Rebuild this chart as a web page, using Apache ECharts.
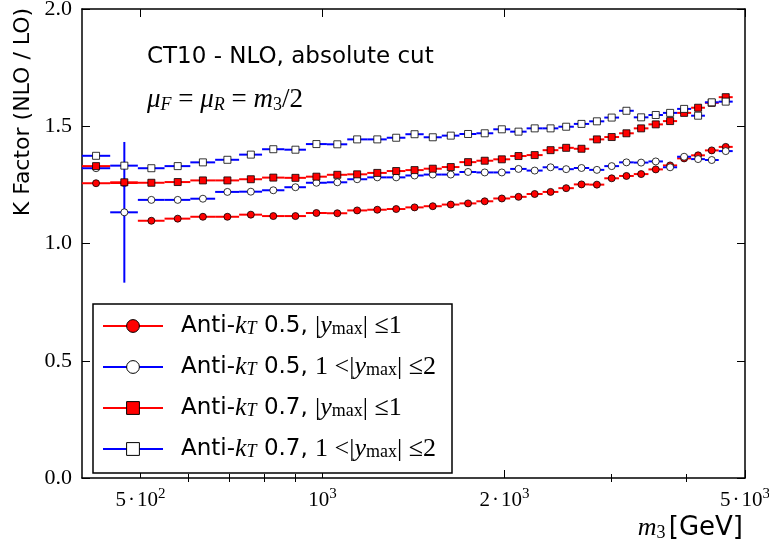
<!DOCTYPE html>
<html>
<head>
<meta charset="utf-8">
<script src="https://cdn.jsdelivr.net/npm/echarts@6/dist/echarts.min.js"></script>
<style>
  html, body { margin: 0; padding: 0; background: #ffffff; }
  #chart { width: 769px; height: 549px; }
</style>
</head>
<body>
<div id="chart"></div>
<script>
// Three-jet invariant mass bin centres (GeV)
const massCenters = [
  422, 470, 521, 576, 634, 696, 761, 829, 902, 977,
  1058, 1141, 1232, 1324, 1420, 1522, 1630, 1741, 1855, 1980,
  2110, 2244, 2384, 2530, 2682, 2844, 3009, 3183, 3366, 3559,
  3759, 3965, 4182, 4405, 4646
];

// K factors, anti-kT R = 0.5, |y_max| <= 1
const kR05Central = [
  1.257, 1.258, 1.097, 1.106, 1.114, 1.114, 1.123, 1.117, 1.117, 1.130,
  1.129, 1.141, 1.144, 1.147, 1.154, 1.159, 1.166, 1.171, 1.180, 1.192,
  1.199, 1.211, 1.220, 1.236, 1.252, 1.251, 1.278, 1.288, 1.296, 1.316,
  1.333, 1.363, 1.376, 1.397, 1.412
];

// K factors, anti-kT R = 0.5, 1 < |y_max| <= 2
const kR05Forward = [
  1.321, 1.133, 1.186, 1.186, 1.191, 1.220, 1.221, 1.227, 1.240, 1.259,
  1.261, 1.274, 1.282, 1.282, 1.290, 1.294, 1.294, 1.305, 1.303, 1.303,
  1.318, 1.311, 1.325, 1.317, 1.322, 1.314, 1.330, 1.346, 1.345, 1.350,
  1.325, 1.370, 1.360, 1.356, 1.394
];
const kR05ForwardErr = [
  0, 0.30, 0, 0, 0, 0, 0, 0, 0, 0,
  0, 0, 0, 0, 0, 0, 0, 0, 0, 0,
  0, 0, 0, 0, 0, 0, 0, 0, 0, 0,
  0, 0, 0, 0, 0
];

// K factors, anti-kT R = 0.7, |y_max| <= 1
const kR07Central = [
  1.330, 1.261, 1.259, 1.262, 1.269, 1.269, 1.274, 1.281, 1.280, 1.285,
  1.293, 1.295, 1.301, 1.309, 1.313, 1.319, 1.326, 1.347, 1.353, 1.359,
  1.373, 1.377, 1.398, 1.408, 1.404, 1.444, 1.454, 1.470, 1.491, 1.508,
  1.522, 1.557, 1.579, 1.600, 1.624
];

// K factors, anti-kT R = 0.7, 1 < |y_max| <= 2
const kR07Forward = [
  1.374, 1.332, 1.321, 1.330, 1.346, 1.357, 1.379, 1.402, 1.400, 1.424,
  1.423, 1.444, 1.444, 1.451, 1.466, 1.453, 1.460, 1.467, 1.470, 1.487,
  1.477, 1.491, 1.491, 1.498, 1.510, 1.521, 1.537, 1.566, 1.538, 1.548,
  1.557, 1.574, 1.545, 1.602, 1.605
];

// Axis ticks
const xRange = [400, 5000];
const xMajorTicks = [500, 1000, 2000, 5000];
const xMajorMantissa = ['5', '', '2', '5'];
const xMajorExponent = ['2', '3', '3', '3'];
const xMinorTicks = [600, 700, 800, 900, 3000, 4000];
const yRange = [0, 2];
const yStep = 0.5;

const RED = '#ff0000';
const BLUE = '#0000ff';
const SERIF = 'Liberation Serif';
const SANS = 'DejaVu Sans';

// Bin edges: geometric mid-points between neighbouring bin centres
function binEdges(centers) {
  const n = centers.length;
  const mids = [];
  for (let i = 0; i < n - 1; i++) mids.push(Math.sqrt(centers[i] * centers[i + 1]));
  const lo = [centers[0] * centers[0] / mids[0]].concat(mids);
  const hi = mids.concat([centers[n - 1] * centers[n - 1] / mids[n - 2]]);
  return { lo, hi };
}
const edges = binEdges(massCenters);

function barData(values, errs) {
  return massCenters.map((m, i) => [m, values[i], edges.lo[i], edges.hi[i], errs ? errs[i] : 0]);
}
function pointData(values) {
  return massCenters.map((m, i) => [m, values[i]]);
}

const seriesDefs = [
  { name: 'r05c', values: kR05Central, errs: null, color: RED, fill: RED, symbol: 'circle',
    label: 'Anti-{it|k}{sub|T} 0.5, {m||}{it|y}{subr|max}{m|| ≤}{m|1}' },
  { name: 'r05f', values: kR05Forward, errs: kR05ForwardErr, color: BLUE, fill: '#ffffff', symbol: 'circle',
    label: 'Anti-{it|k}{sub|T} 0.5, {m|1 <|}{it|y}{subr|max}{m|| ≤}{m|2}' },
  { name: 'r07c', values: kR07Central, errs: null, color: RED, fill: RED, symbol: 'rect',
    label: 'Anti-{it|k}{sub|T} 0.7, {m||}{it|y}{subr|max}{m|| ≤}{m|1}' },
  { name: 'r07f', values: kR07Forward, errs: null, color: BLUE, fill: '#ffffff', symbol: 'rect',
    label: 'Anti-{it|k}{sub|T} 0.7, {m|1 <|}{it|y}{subr|max}{m|| ≤}{m|2}' }
];

function makeBarRenderer(color) {
  return function (params, api) {
    const y = api.value(1);
    const a = api.coord([api.value(2), y]);
    const b = api.coord([api.value(3), y]);
    const children = [{
      type: 'line',
      shape: { x1: a[0], y1: a[1], x2: b[0], y2: b[1] },
      style: { stroke: color, lineWidth: 2 }
    }];
    const err = api.value(4);
    if (err > 0) {
      const c = api.coord([api.value(0), y + err]);
      const d = api.coord([api.value(0), y - err]);
      children.push({
        type: 'line',
        shape: { x1: c[0], y1: c[1], x2: d[0], y2: d[1] },
        style: { stroke: color, lineWidth: 2 }
      });
    }
    return { type: 'group', children };
  };
}

const series = [];
seriesDefs.forEach((s, i) => {
  series.push({
    type: 'custom',
    name: s.name + '-bars',
    xAxisIndex: 0,
    yAxisIndex: 0,
    z: 2 + 2 * i,
    renderItem: makeBarRenderer(s.color),
    encode: { x: 0, y: 1 },
    data: barData(s.values, s.errs),
    silent: true
  });
  series.push({
    type: 'line',
    name: s.name,
    xAxisIndex: 0,
    yAxisIndex: 0,
    z: 3 + 2 * i,
    data: pointData(s.values),
    symbol: s.symbol,
    symbolSize: 7,
    showSymbol: true,
    showAllSymbol: true,
    lineStyle: { opacity: 0, width: 0 },
    itemStyle: { color: s.fill, borderColor: '#000000', borderWidth: 0.8 },
    emphasis: { disabled: true }
  });
});

const labelByName = {};
seriesDefs.forEach(s => { labelByName[s.name] = s.label; });

// Tick labels of the form "5·10²" / "10³"
function xTickLabel(v) {
  for (let i = 0; i < xMajorTicks.length; i++) {
    if (Math.abs(v - xMajorTicks[i]) / xMajorTicks[i] < 1e-6) {
      const mant = xMajorMantissa[i] ? '{a|' + xMajorMantissa[i] + '}{d|·}' : '';
      return mant + '{a|10}{e|' + xMajorExponent[i] + '}';
    }
  }
  return '';
}

function logXAxis(opts) {
  return Object.assign({
    type: 'log',
    logBase: 10,
    min: xRange[0],
    max: xRange[1],
    gridIndex: 0,
    axisLine: { show: false },
    splitLine: { show: false },
    minorTick: { show: false },
    minorSplitLine: { show: false },
    axisLabel: { show: false },
    axisTick: { show: false }
  }, opts);
}

const option = {
  animation: false,
  backgroundColor: '#ffffff',
  grid: { left: 82, right: 24, top: 9, bottom: 71, outerBoundsMode: 'none', containLabel: false },
  xAxis: [
    logXAxis({
      position: 'bottom',
      axisLine: { show: true, onZero: false, lineStyle: { color: '#000', width: 1.5 } },
      axisTick: { show: true, inside: true, length: 8, customValues: xMajorTicks,
        lineStyle: { color: '#000', width: 1 } },
      axisLabel: {
        show: true, margin: 9, customValues: xMajorTicks, formatter: xTickLabel,
        color: '#000',
        rich: {
          a: { fontFamily: SERIF, fontSize: 21, lineHeight: 26, color: '#000' },
          d: { fontFamily: SERIF, fontSize: 21, lineHeight: 26, padding: [0, 2, 0, 2], color: '#000' },
          e: { fontFamily: SERIF, fontSize: 15, lineHeight: 15, verticalAlign: 'top', color: '#000' }
        }
      }
    }),
    logXAxis({
      position: 'bottom',
      axisTick: { show: true, inside: true, length: 4, customValues: xMinorTicks,
        lineStyle: { color: '#000', width: 1 } }
    }),
    logXAxis({
      position: 'top',
      axisLine: { show: true, onZero: false, lineStyle: { color: '#000', width: 1.5 } },
      axisTick: { show: true, inside: true, length: 8, customValues: xMajorTicks,
        lineStyle: { color: '#000', width: 1 } }
    }),
    logXAxis({
      position: 'top',
      axisTick: { show: true, inside: true, length: 4, customValues: xMinorTicks,
        lineStyle: { color: '#000', width: 1 } }
    })
  ],
  yAxis: [
    {
      type: 'value', position: 'left', min: yRange[0], max: yRange[1], interval: yStep,
      axisLine: { show: true, onZero: false, lineStyle: { color: '#000', width: 1.5 } },
      axisTick: { show: true, inside: true, length: 8, lineStyle: { color: '#000', width: 1 } },
      splitLine: { show: false },
      axisLabel: {
        margin: 10, color: '#000', fontFamily: SERIF, fontSize: 22,
        formatter: v => v.toFixed(1)
      }
    },
    {
      type: 'value', position: 'right', min: yRange[0], max: yRange[1], interval: yStep,
      axisLine: { show: true, onZero: false, lineStyle: { color: '#000', width: 1.5 } },
      axisTick: { show: true, inside: true, length: 8, lineStyle: { color: '#000', width: 1 } },
      splitLine: { show: false },
      axisLabel: { show: false }
    }
  ],
  legend: {
    orient: 'vertical',
    left: 93,
    top: 304,
    padding: [9, 9, 11, 9],
    itemGap: 15,
    itemWidth: 60,
    itemHeight: 16,
    backgroundColor: '#ffffff',
    borderColor: '#000000',
    borderWidth: 1.5,
    borderRadius: 0,
    selectedMode: false,
    data: seriesDefs.map(s => ({
      name: s.name,
      itemStyle: { color: s.fill, borderColor: '#000000', borderWidth: 1 },
      lineStyle: { color: s.color, width: 2, opacity: 1, type: 'solid' }
    })),
    formatter: name => labelByName[name],
    textStyle: {
      color: '#000', fontFamily: SANS, fontSize: 23, lineHeight: 24, width: 262,
      padding: [0, 0, 0, 13],
      rich: {
        it: { fontFamily: SERIF, fontStyle: 'italic', fontSize: 26, lineHeight: 24, color: '#000' },
        m: { fontFamily: SERIF, fontSize: 26, lineHeight: 24, color: '#000' },
        sub: { fontFamily: SERIF, fontStyle: 'italic', fontSize: 18, lineHeight: 15, verticalAlign: 'bottom', color: '#000' },
        subr: { fontFamily: SERIF, fontSize: 18, lineHeight: 15, verticalAlign: 'bottom', color: '#000' }
      }
    },
    z: 20
  },
  graphic: [
    {
      type: 'text', x: 147, y: 57, z: 30,
      style: { text: 'CT10 - NLO, absolute cut', font: '23px "DejaVu Sans"', fill: '#000', verticalAlign: 'middle' }
    },
    {
      type: 'text', x: 147, y: 100, z: 30,
      style: {
        text: '{i|μ}{s|F}{m| = }{i|μ}{s|R}{m| = }{i|m}{n|3}{m|/2}',
        verticalAlign: 'middle',
        rich: {
          i: { fontFamily: SERIF, fontStyle: 'italic', fontSize: 27, lineHeight: 28, fill: '#000' },
          m: { fontFamily: SERIF, fontSize: 27, lineHeight: 28, fill: '#000' },
          s: { fontFamily: SERIF, fontStyle: 'italic', fontSize: 18, lineHeight: 16, verticalAlign: 'bottom', fill: '#000' },
          n: { fontFamily: SERIF, fontSize: 18, lineHeight: 16, verticalAlign: 'bottom', fill: '#000' }
        }
      }
    },
    {
      type: 'text', x: 23, y: 112, rotation: Math.PI / 2, z: 30,
      style: { text: 'K Factor (NLO / LO)', font: '22px "DejaVu Sans"', fill: '#000', align: 'center', verticalAlign: 'middle' }
    },
    {
      type: 'text', x: 743, y: 528, z: 30,
      style: {
        text: '{i|m}{n|3} {g|[GeV]}',
        align: 'right', verticalAlign: 'middle',
        rich: {
          i: { fontFamily: SERIF, fontStyle: 'italic', fontSize: 26, lineHeight: 28, fill: '#000' },
          n: { fontFamily: SERIF, fontSize: 18, lineHeight: 16, verticalAlign: 'bottom', fill: '#000' },
          g: { fontFamily: SANS, fontSize: 26, lineHeight: 28, fill: '#000' }
        }
      }
    }
  ],
  series: series
};

const chart = echarts.init(document.getElementById('chart'), null, { renderer: 'canvas' });
chart.setOption(option);
</script>
</body>
</html>
